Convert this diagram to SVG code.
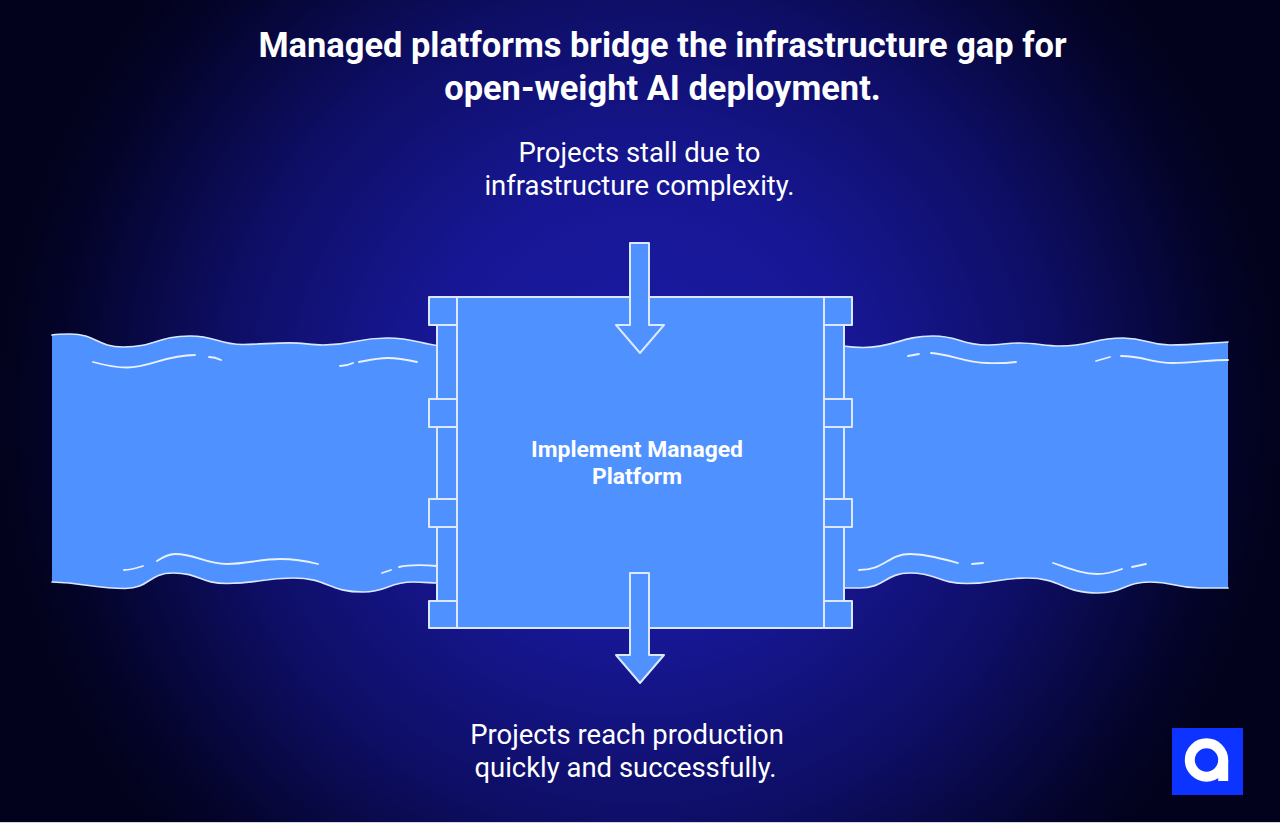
<svg xmlns="http://www.w3.org/2000/svg" width="1280" height="823" viewBox="0 0 1280 823">
<style>
.s{fill:#4f91ff;stroke:#dbe8ff;stroke-width:2;stroke-linejoin:round}
.w{fill:#4f91ff;stroke:none}
.e{fill:none;stroke:#dbe8ff;stroke-width:1.7;stroke-linecap:round;stroke-linejoin:round}
.i{fill:none;stroke:#eaf1ff;stroke-width:1.8;stroke-linecap:round}
text{fill:#fff;font-family:Roboto,"Liberation Sans",sans-serif;text-anchor:middle}
.t{font-size:34.45px;font-weight:700}
.b{font-size:27.45px;font-weight:400}
.c{font-size:22.9px;font-weight:700}
</style>
<defs>
<radialGradient id="bg" gradientUnits="userSpaceOnUse" cx="640" cy="411" r="640">
<stop offset="0" stop-color="#1a1aa6"/>
<stop offset="0.35" stop-color="#171795"/>
<stop offset="0.65" stop-color="#0e0e66"/>
<stop offset="0.9" stop-color="#04042c"/>
<stop offset="1" stop-color="#02021c"/>
</radialGradient>
</defs>
<rect width="1280" height="823" fill="url(#bg)"/>
<rect y="822" width="1280" height="1" fill="#d5d5dc"/>
<g id="stream-left">
<path class="w" d="M52 335C58 334 64 334 70 334C96 334 97 347 123 347C156 347 157 336 190 336C217 336 217 344.5 243 344.5C260 344.5 272 342.8 290 342.8C303 342.8 310 345 323 345C355 345 355 338 387 338C412 338 420 343.5 437 345.5L437 583C430 583 425 582 413 582C388 582 388 592 363 592C328 592 328 578 293 578C260 578 260 583.5 227 583.5C200 583.5 200 573 173 573C148 573 150 588.5 125 588.5C95 588.5 85 583 52 582Z"/>
<path class="e" d="M52 335C58 334 64 334 70 334C96 334 97 347 123 347C156 347 157 336 190 336C217 336 217 344.5 243 344.5C260 344.5 272 342.8 290 342.8C303 342.8 310 345 323 345C355 345 355 338 387 338C412 338 420 343.5 437 345.5"/>
<path class="e" d="M437 583C430 583 425 582 413 582C388 582 388 592 363 592C328 592 328 578 293 578C260 578 260 583.5 227 583.5C200 583.5 200 573 173 573C148 573 150 588.5 125 588.5C95 588.5 85 583 52 582"/>
<path class="i" d="M93 362C104 365 115 367.5 127 367.5C150 367.5 165 355 195 355"/>
<path class="i" d="M209 357C213 357 217 358 221 360"/>
<path class="i" d="M340 366C345 366 349 365 353 363"/>
<path class="i" d="M359 362C369 360 378 358 388 358C398 358 408 360 417 362"/>
<path class="i" d="M124 570C131 570 137 568 143 566"/>
<path class="i" d="M157 561C163 557 168 554 175 554C196 554 205 564 227 564C245 564 262 559 280 559C293 559 306 561 318 564"/>
<path class="i" d="M382 573L391 570"/>
<path class="i" d="M399 567C412 564 425 565 437 566"/>
</g>
<g id="stream-right">
<path class="w" d="M843 346C850 347 857 347.5 863 347.5C895 347.5 900 336 933 336C960 336 960 345 987 345C1000 345 1007 343 1020 343C1035 343 1045 346 1060 346C1092 346 1092 338 1123 338C1147 338 1147 345 1170 345C1190 345 1210 343 1228 342L1228 588C1215 588 1208 588 1200 588C1175 588 1175 582 1150 582C1124 582 1124 593 1098 593C1062 593 1062 578 1027 578C997 578 997 583.5 967 583.5C938 583.5 938 573 910 573C885 573 885 588 860 588C855 588 850 588 843 588Z"/>
<path class="e" d="M843 346C850 347 857 347.5 863 347.5C895 347.5 900 336 933 336C960 336 960 345 987 345C1000 345 1007 343 1020 343C1035 343 1045 346 1060 346C1092 346 1092 338 1123 338C1147 338 1147 345 1170 345C1190 345 1210 343 1228 342"/>
<path class="e" d="M1228 588C1215 588 1208 588 1200 588C1175 588 1175 582 1150 582C1124 582 1124 593 1098 593C1062 593 1062 578 1027 578C997 578 997 583.5 967 583.5C938 583.5 938 573 910 573C885 573 885 588 860 588C855 588 850 588 843 588"/>
<path class="i" d="M908 356L919 354"/>
<path class="i" d="M931 353C950 354 965 363 987 363C997 363.5 1007 363 1016 362"/>
<path class="i" d="M1096 361L1110 357"/>
<path class="i" d="M1121 356C1145 356 1150 363 1173 363C1192 363 1210 360 1228 360"/>
<path class="i" d="M859 570C885 570 888 554 910 554C926 554 943 559 958 563"/>
<path class="i" d="M972 564L983 563"/>
<path class="i" d="M1053 563C1068 568 1082 574 1097 574C1106 574 1114 572 1122 569"/>
<path class="i" d="M1132 567L1146 564"/>
</g>
<g id="gate">
<rect class="s" x="437" y="297" width="20" height="331"/>
<rect class="s" x="824" y="297" width="20" height="331"/>
<rect class="s" x="429" y="297" width="28" height="28"/>
<rect class="s" x="429" y="399" width="28" height="28"/>
<rect class="s" x="429" y="499" width="28" height="28"/>
<rect class="s" x="429" y="601" width="28" height="27"/>
<rect class="s" x="824" y="297" width="28" height="28"/>
<rect class="s" x="824" y="399" width="28" height="28"/>
<rect class="s" x="824" y="499" width="28" height="28"/>
<rect class="s" x="824" y="601" width="28" height="27"/>
<rect class="s" x="457" y="297" width="367" height="331"/>
<text class="c" x="637" y="457">Implement Managed</text>
<text class="c" x="637" y="484">Platform</text>
</g>
<g id="connectors">
<path class="s" d="M630 243H649V325H664L640 353L616 325H630Z"/>
<path class="s" d="M630 573H649V655H664L640 683L616 655H630Z"/>
</g>
<g id="title">
<text class="t" x="662.5" y="56.5">Managed platforms bridge the infrastructure gap for</text>
<text class="t" x="662.5" y="99.5">open-weight AI deployment.</text>
</g>
<g id="label-top">
<text class="b" x="639.5" y="161.5">Projects stall due to</text>
<text class="b" x="639.5" y="195">infrastructure complexity.</text>
</g>
<g id="label-bottom">
<text class="b" x="627" y="743.5">Projects reach production</text>
<text class="b" x="625.5" y="777">quickly and successfully.</text>
</g>
<g id="logo">
<rect x="1172" y="728" width="71" height="67" fill="#0c33ff"/>
<circle cx="1206.5" cy="760" r="16.7" fill="none" stroke="#fff" stroke-width="10"/>
<rect x="1218.2" y="760" width="10" height="21" fill="#fff"/>
</g>
</svg>
